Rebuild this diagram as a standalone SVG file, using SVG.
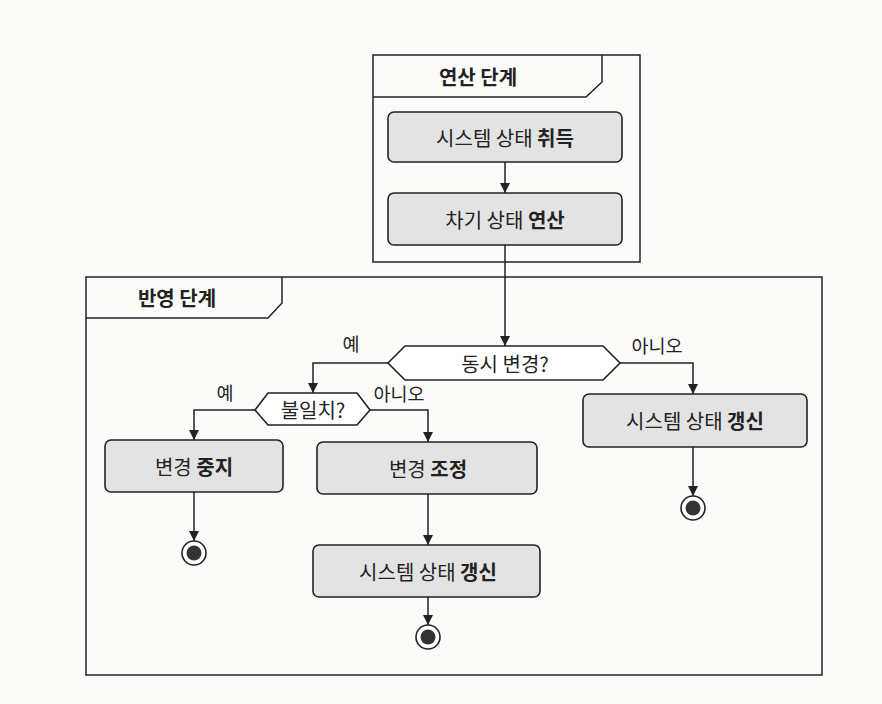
<svg xmlns="http://www.w3.org/2000/svg" width="882" height="704" viewBox="0 0 882 704">
<defs>
<marker id="arr" viewBox="0 0 10 10" refX="10" refY="5" markerWidth="10" markerHeight="10" markerUnits="userSpaceOnUse" orient="auto">
<path d="M0,0 L10,5 L0,10 Z" fill="#222"/>
</marker>
<style>
.frame{fill:none;stroke:#222;stroke-width:1.5}
.box{fill:#e3e3e3;stroke:#222;stroke-width:1.6}
.dec{fill:#fff;stroke:#222;stroke-width:1.6}
.conn{fill:none;stroke:#222;stroke-width:1.5}
text{font-family:"Noto Sans CJK KR","Noto Sans",sans-serif;fill:#222}
.t{font-size:20px;text-anchor:middle;dominant-baseline:central}
.b{font-weight:bold}
.lbl{font-size:18.5px;text-anchor:middle;dominant-baseline:central}
.endo{fill:#fff;stroke:#222;stroke-width:1.6}
.endi{fill:#333}
</style>
</defs>
<rect width="882" height="704" fill="#fbfbfa"/>

<g id="frame-compute">
<rect class="frame" x="373" y="55" width="267" height="207"/>
<path class="frame" d="M373,97 L586,97 L602,82 L602,55"/>
<text class="t b" x="478" y="76">연산 단계</text>
</g>

<g id="frame-reflect">
<rect class="frame" x="86" y="277" width="736" height="398"/>
<path class="frame" d="M86,318 L268,318 L282,303 L282,277"/>
<text class="t b" x="177" y="297">반영 단계</text>
</g>

<g id="connectors">
<line class="conn" x1="505" y1="162" x2="505" y2="193" marker-end="url(#arr)"/>
<line class="conn" x1="505" y1="245" x2="505" y2="346" marker-end="url(#arr)"/>
<polyline class="conn" points="388,363 313,363 313,393" marker-end="url(#arr)"/>
<polyline class="conn" points="620,363 693,363 693,394" marker-end="url(#arr)"/>
<polyline class="conn" points="255,410 194,410 194,440" marker-end="url(#arr)"/>
<polyline class="conn" points="370,410 428,410 428,442" marker-end="url(#arr)"/>
<line class="conn" x1="194" y1="492" x2="194" y2="541" marker-end="url(#arr)"/>
<line class="conn" x1="428" y1="494" x2="428" y2="545" marker-end="url(#arr)"/>
<line class="conn" x1="428" y1="597" x2="428" y2="625" marker-end="url(#arr)"/>
<line class="conn" x1="693" y1="447" x2="693" y2="496" marker-end="url(#arr)"/>
<text class="lbl" x="351" y="343">예</text>
<text class="lbl" x="657" y="345">아니오</text>
<text class="lbl" x="225" y="392">예</text>
<text class="lbl" x="399" y="393">아니오</text>
</g>

<g id="acquire">
<rect class="box" x="388" y="112" width="234" height="50" rx="6"/>
<text class="t" x="505" y="137">시스템 상태 <tspan class="b">취득</tspan></text>
</g>

<g id="compute">
<rect class="box" x="388" y="193" width="234" height="52" rx="6"/>
<text class="t" x="505" y="219">차기 상태 <tspan class="b">연산</tspan></text>
</g>

<g id="dec-concurrent">
<polygon class="dec" points="388,363 405,346 603,346 620,363 603,380 405,380"/>
<text class="t" x="505" y="363">동시 변경?</text>
</g>

<g id="dec-mismatch">
<polygon class="dec" points="255,410 268,393 357,393 370,410 357,425 268,425"/>
<text class="t" x="313" y="409">불일치?</text>
</g>

<g id="abort">
<rect class="box" x="105" y="440" width="178" height="52" rx="6"/>
<text class="t" x="194" y="466">변경 <tspan class="b">중지</tspan></text>
</g>

<g id="adjust">
<rect class="box" x="317" y="442" width="220" height="52" rx="6"/>
<text class="t" x="428" y="468">변경 <tspan class="b">조정</tspan></text>
</g>

<g id="update-mid">
<rect class="box" x="313" y="545" width="227" height="52" rx="6"/>
<text class="t" x="428" y="571">시스템 상태 <tspan class="b">갱신</tspan></text>
</g>

<g id="update-right">
<rect class="box" x="583" y="394" width="224" height="53" rx="6"/>
<text class="t" x="695" y="420">시스템 상태 <tspan class="b">갱신</tspan></text>
</g>

<g id="end-left">
<circle class="endo" cx="194" cy="553" r="12"/>
<circle class="endi" cx="194" cy="553" r="7.5"/>
</g>
<g id="end-mid">
<circle class="endo" cx="428" cy="637" r="12"/>
<circle class="endi" cx="428" cy="637" r="7.5"/>
</g>
<g id="end-right">
<circle class="endo" cx="693" cy="508" r="12"/>
<circle class="endi" cx="693" cy="508" r="7.5"/>
</g>
</svg>
